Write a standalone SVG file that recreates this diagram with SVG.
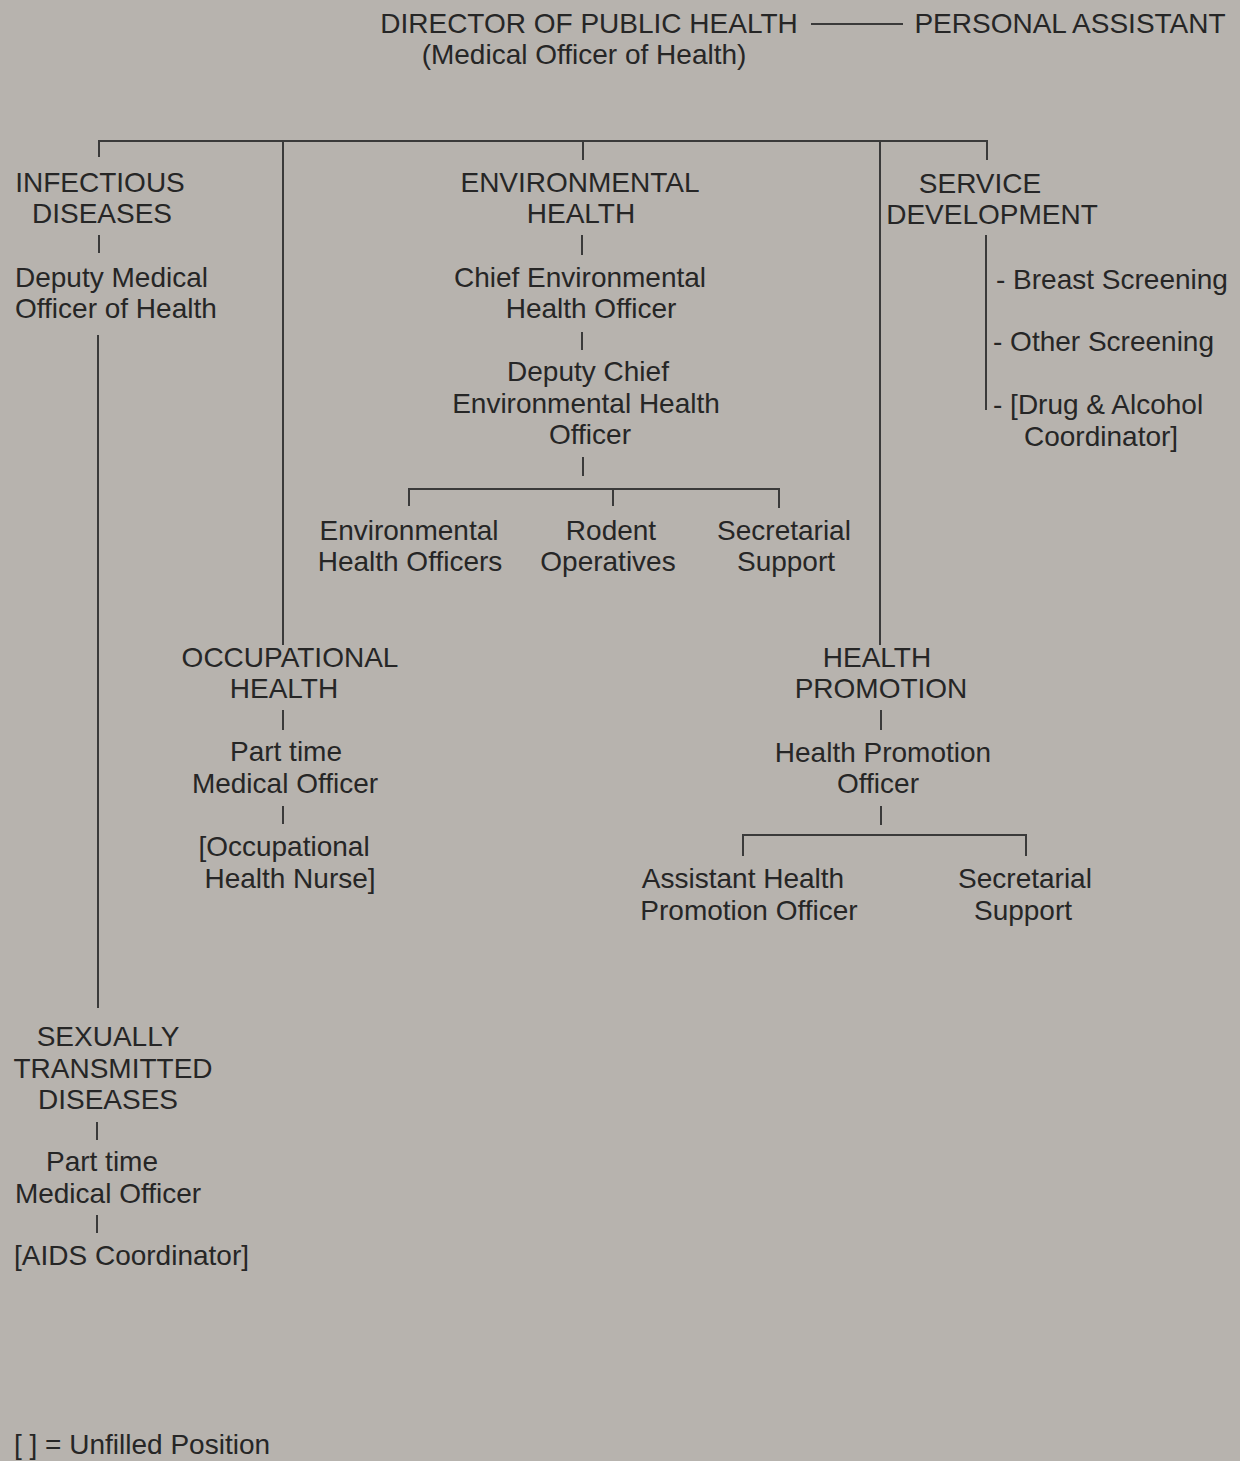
<svg xmlns="http://www.w3.org/2000/svg" width="1240" height="1461" viewBox="0 0 1240 1461">
<style>
text{font-family:"Liberation Sans",Arial,sans-serif;font-size:28px;fill:#262626}
.c{text-anchor:middle}
.l{text-anchor:start}
.ln{stroke:#3a3a3a;stroke-width:2;fill:none}
</style>
<rect x="0" y="0" width="1240" height="1461" fill="#b7b3ae"/>
<g id="connectors" class="ln">
<line x1="811" y1="24" x2="903" y2="24"/>
<polyline points="99,157 99,141 987,141 987,160"/>
<line x1="583" y1="141" x2="583" y2="160"/>
<line x1="283" y1="141" x2="283" y2="645"/>
<line x1="880" y1="141" x2="880" y2="645"/>
<line x1="99" y1="235" x2="99" y2="253"/>
<line x1="98" y1="335" x2="98" y2="1008"/>
<line x1="97" y1="1122" x2="97" y2="1140"/>
<line x1="97" y1="1215" x2="97" y2="1233"/>
<line x1="582" y1="235" x2="582" y2="255"/>
<line x1="582" y1="332" x2="582" y2="350"/>
<line x1="583" y1="457" x2="583" y2="476"/>
<polyline points="409,506 409,489 779,489 779,508"/>
<line x1="613" y1="489" x2="613" y2="506"/>
<line x1="986" y1="235" x2="986" y2="410"/>
<line x1="283" y1="710" x2="283" y2="730"/>
<line x1="283" y1="806" x2="283" y2="824"/>
<line x1="881" y1="710" x2="881" y2="730"/>
<line x1="881" y1="806" x2="881" y2="825"/>
<polyline points="743,856 743,835 1026,835 1026,856"/>
</g>
<g id="director"><text class="c" x="589" y="33">DIRECTOR OF PUBLIC HEALTH</text><text class="c" x="584" y="64">(Medical Officer of Health)</text></g>
<g id="assistant"><text class="c" x="1070" y="33">PERSONAL ASSISTANT</text></g>
<g id="infectious"><text class="c" x="100" y="192">INFECTIOUS</text><text class="c" x="102" y="223">DISEASES</text></g>
<g id="deputy-moh"><text class="l" x="15" y="287">Deputy Medical</text><text class="l" x="15" y="318">Officer of Health</text></g>
<g id="std"><text class="c" x="108" y="1046">SEXUALLY</text><text class="c" x="113" y="1078">TRANSMITTED</text><text class="c" x="108" y="1109">DISEASES</text></g>
<g id="std-mo"><text class="c" x="102" y="1171">Part time</text><text class="c" x="108" y="1203">Medical Officer</text></g>
<g id="aids"><text class="l" x="14" y="1265">[AIDS Coordinator]</text></g>
<g id="env"><text class="c" x="580" y="192">ENVIRONMENTAL</text><text class="c" x="581" y="223">HEALTH</text></g>
<g id="cheho"><text class="c" x="580" y="287">Chief Environmental</text><text class="c" x="591" y="318">Health Officer</text></g>
<g id="dcheho"><text class="c" x="588" y="381">Deputy Chief</text><text class="c" x="586" y="413">Environmental Health</text><text class="c" x="590" y="444">Officer</text></g>
<g id="eho"><text class="c" x="409" y="540">Environmental</text><text class="c" x="410" y="571">Health Officers</text></g>
<g id="rodent"><text class="c" x="611" y="540">Rodent</text><text class="c" x="608" y="571">Operatives</text></g>
<g id="env-sec"><text class="c" x="784" y="540">Secretarial</text><text class="c" x="786" y="571">Support</text></g>
<g id="service"><text class="c" x="980" y="193">SERVICE</text><text class="c" x="992" y="224">DEVELOPMENT</text></g>
<g id="service-items"><text class="l" x="996" y="289">- Breast Screening</text><text class="l" x="993" y="351">- Other Screening</text><text class="l" x="993" y="414">- [Drug &amp; Alcohol</text><text class="l" x="1024" y="446">Coordinator]</text></g>
<g id="occ"><text class="c" x="290" y="667">OCCUPATIONAL</text><text class="c" x="284" y="698">HEALTH</text></g>
<g id="occ-mo"><text class="c" x="286" y="761">Part time</text><text class="c" x="285" y="793">Medical Officer</text></g>
<g id="occ-nurse"><text class="c" x="284" y="856">[Occupational</text><text class="c" x="290" y="888">Health Nurse]</text></g>
<g id="hp"><text class="c" x="877" y="667">HEALTH</text><text class="c" x="881" y="698">PROMOTION</text></g>
<g id="hpo"><text class="c" x="883" y="762">Health Promotion</text><text class="c" x="878" y="793">Officer</text></g>
<g id="ahpo"><text class="c" x="743" y="888">Assistant Health</text><text class="c" x="749" y="920">Promotion Officer</text></g>
<g id="hp-sec"><text class="c" x="1025" y="888">Secretarial</text><text class="c" x="1023" y="920">Support</text></g>
<g id="legend"><text class="l" x="14" y="1454">[ ] = Unfilled Position</text></g>
</svg>
